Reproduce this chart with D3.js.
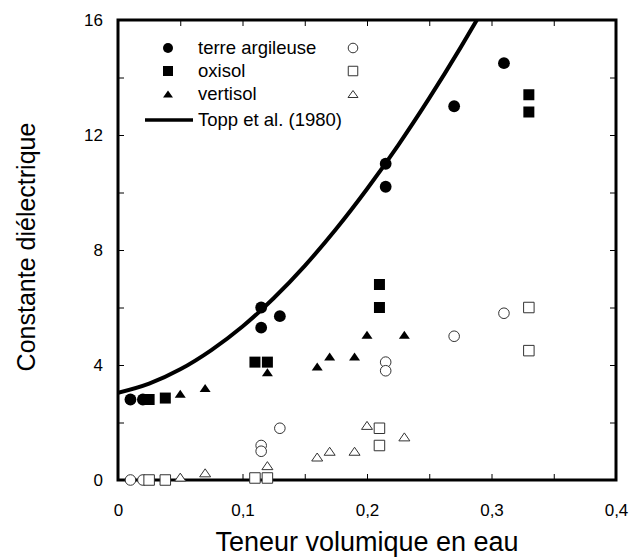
<!DOCTYPE html>
<html>
<head>
<meta charset="utf-8">
<script src="https://cdn.jsdelivr.net/npm/d3@7/dist/d3.min.js"></script>
<style>
  body { margin: 0; background: #fff; }
  svg text { font-family: "Liberation Sans", Arial, sans-serif; fill: #000; }
</style>
</head>
<body>
<script>
// values: water content (x) vs dielectric constant (y)
var argileX = [0.01, 0.02, 0.115, 0.115, 0.13, 0.215, 0.215, 0.27, 0.31];
var argileY = [2.8, 2.8, 6.0, 5.3, 5.7, 11.0, 10.2, 13.0, 14.5];
var argileOpenY = [0, 0, 1.2, 1.0, 1.8, 4.1, 3.8, 5.0, 5.8];

var oxisolX = [0.025, 0.038, 0.11, 0.12, 0.21, 0.21, 0.33, 0.33];
var oxisolY = [2.8, 2.85, 4.1, 4.1, 6.8, 6.0, 13.4, 12.8];
var oxisolOpenY = [0, 0, 0.07, 0.07, 1.8, 1.2, 6.0, 4.5];

var vertisolX = [0.05, 0.07, 0.12, 0.16, 0.17, 0.19, 0.20, 0.23];
var vertisolY = [3.0, 3.2, 3.75, 3.95, 4.3, 4.3, 5.05, 5.05];
var vertisolOpenY = [0.1, 0.25, 0.5, 0.8, 1.0, 1.0, 1.9, 1.5];

// Topp et al. (1980) curve
var toppX = [0, 0.025, 0.05, 0.075, 0.1, 0.125, 0.15, 0.175, 0.2, 0.225, 0.25, 0.275, 0.29];
var toppY = [3.03, 3.35, 3.85, 4.52, 5.34, 6.32, 7.45, 8.72, 10.12, 11.64, 13.28, 15.03, 16.13];

var legendLabels = ["terre argileuse", "oxisol", "vertisol", "Topp et al. (1980)"];
var xTickLabels = [0, 0.1, 0.2, 0.3, 0.4];
var yTickLabels = [0, 4, 8, 12, 16];

var W = 630, H = 557;
var pLeft = 118, pRight = 616, pTop = 20, pBottom = 480;

var svg = d3.select("body").append("svg")
    .attr("width", W)
    .attr("height", H);

var x = d3.scaleLinear().domain([0, 0.4]).range([pLeft, pRight]);
var y = d3.scaleLinear().domain([0, 16]).range([pBottom, pTop]);

var fmt = function(d) { return d === 0 ? "0" : String(d).replace(".", ","); };

svg.append("clipPath").attr("id", "plotclip")
  .append("rect")
    .attr("x", pLeft).attr("y", pTop)
    .attr("width", pRight - pLeft).attr("height", pBottom - pTop);

///////////////////////// ticks /////////////////////////
var minorX = d3.range(0, 0.4001, 0.05);
var minorY = d3.range(0, 16.001, 2);

svg.append("g")
    .attr("transform", "translate(0," + pBottom + ")")
    .call(d3.axisBottom(x).tickValues(minorX).tickSize(-6).tickFormat(""));
svg.append("g")
    .attr("transform", "translate(0," + pTop + ")")
    .call(d3.axisTop(x).tickValues(minorX).tickSize(-6).tickFormat(""));
svg.append("g")
    .attr("transform", "translate(" + pLeft + ",0)")
    .call(d3.axisLeft(y).tickValues(minorY).tickSize(-6).tickFormat(""));
svg.append("g")
    .attr("transform", "translate(" + pRight + ",0)")
    .call(d3.axisRight(y).tickValues(minorY).tickSize(-6).tickFormat(""));

// tick labels
svg.append("g")
    .attr("transform", "translate(0," + pBottom + ")")
    .call(d3.axisBottom(x).tickValues(xTickLabels).tickSize(0).tickPadding(24).tickFormat(fmt))
    .selectAll("text").style("font-size", "17px").style("font-family", "Liberation Sans, Arial, sans-serif");
svg.append("g")
    .attr("transform", "translate(" + pLeft + ",0)")
    .call(d3.axisLeft(y).tickValues(yTickLabels).tickSize(0).tickPadding(15).tickFormat(fmt))
    .selectAll("text").style("font-size", "17px").style("font-family", "Liberation Sans, Arial, sans-serif");

svg.selectAll(".domain").remove();
svg.selectAll(".tick line").attr("stroke", "#000").attr("stroke-width", 1);

// frame
svg.append("rect")
    .attr("x", pLeft).attr("y", pTop)
    .attr("width", pRight - pLeft).attr("height", pBottom - pTop)
    .attr("fill", "none").attr("stroke", "#000").attr("stroke-width", 3);

///////////////////////// Topp curve /////////////////////////
var line = d3.line()
    .x(function(d) { return x(d[0]); })
    .y(function(d) { return y(d[1]); })
    .curve(d3.curveMonotoneX);

svg.append("path")
    .datum(d3.zip(toppX, toppY))
    .attr("clip-path", "url(#plotclip)")
    .attr("d", line)
    .attr("fill", "none")
    .attr("stroke", "#000")
    .attr("stroke-width", 4);

///////////////////////// markers /////////////////////////
function tri(w, h) {
  return "M0," + (-h / 2) + "L" + (w / 2) + "," + (h / 2) + "L" + (-w / 2) + "," + (h / 2) + "Z";
}
function sq(s) {
  return "M" + (-s / 2) + "," + (-s / 2) + "h" + s + "v" + s + "h" + (-s) + "Z";
}
function circ(r) {
  return "M" + r + ",0A" + r + "," + r + " 0 1,1 " + (-r) + ",0A" + r + "," + r + " 0 1,1 " + r + ",0Z";
}

function drawSeries(xs, ys, shape, open) {
  svg.append("g").selectAll("path")
    .data(d3.zip(xs, ys))
    .enter().append("path")
      .attr("transform", function(d) { return "translate(" + x(d[0]) + "," + y(d[1]) + ")"; })
      .attr("d", shape)
      .attr("fill", open ? "#fff" : "#000")
      .attr("stroke", open ? "#333" : "none")
      .attr("stroke-width", open ? 1 : 0);
}

drawSeries(argileX, argileOpenY, circ(5.3), true);
drawSeries(vertisolX, vertisolOpenY, tri(11, 8), true);
drawSeries(oxisolX, oxisolOpenY, sq(10.5), true);

drawSeries(argileX, argileY, circ(5.9), false);
drawSeries(vertisolX, vertisolY, tri(11, 8), false);
drawSeries(oxisolX, oxisolY, sq(11), false);

///////////////////////// legend /////////////////////////
var legY = [48, 71, 94, 120];
var legShapes = [circ(5), sq(10), tri(10, 7)];
var legOpen = [circ(4.8), sq(9.5), tri(10, 7)];

var leg = svg.append("g");
legShapes.forEach(function(s, i) {
  leg.append("path").attr("transform", "translate(168," + legY[i] + ")")
    .attr("d", s).attr("fill", "#000");
  leg.append("path").attr("transform", "translate(353," + legY[i] + ")")
    .attr("d", legOpen[i]).attr("fill", "#fff").attr("stroke", "#333").attr("stroke-width", 1);
});
leg.append("line")
    .attr("x1", 145).attr("x2", 193)
    .attr("y1", legY[3]).attr("y2", legY[3])
    .attr("stroke", "#000").attr("stroke-width", 3.5);
leg.selectAll("text")
  .data(legendLabels)
  .enter().append("text")
    .attr("x", 198)
    .attr("y", function(d, i) { return legY[i] + 6; })
    .style("font-size", "18.5px")
    .text(function(d) { return d; });

///////////////////////// axis titles /////////////////////////
svg.append("text")
    .attr("x", (pLeft + pRight) / 2)
    .attr("y", 551)
    .attr("text-anchor", "middle")
    .style("font-size", "27px")
    .text("Teneur volumique en eau");

svg.append("text")
    .attr("transform", "translate(35,247) rotate(-90)")
    .attr("text-anchor", "middle")
    .style("font-size", "25px")
    .text("Constante diélectrique");
</script>
</body>
</html>
